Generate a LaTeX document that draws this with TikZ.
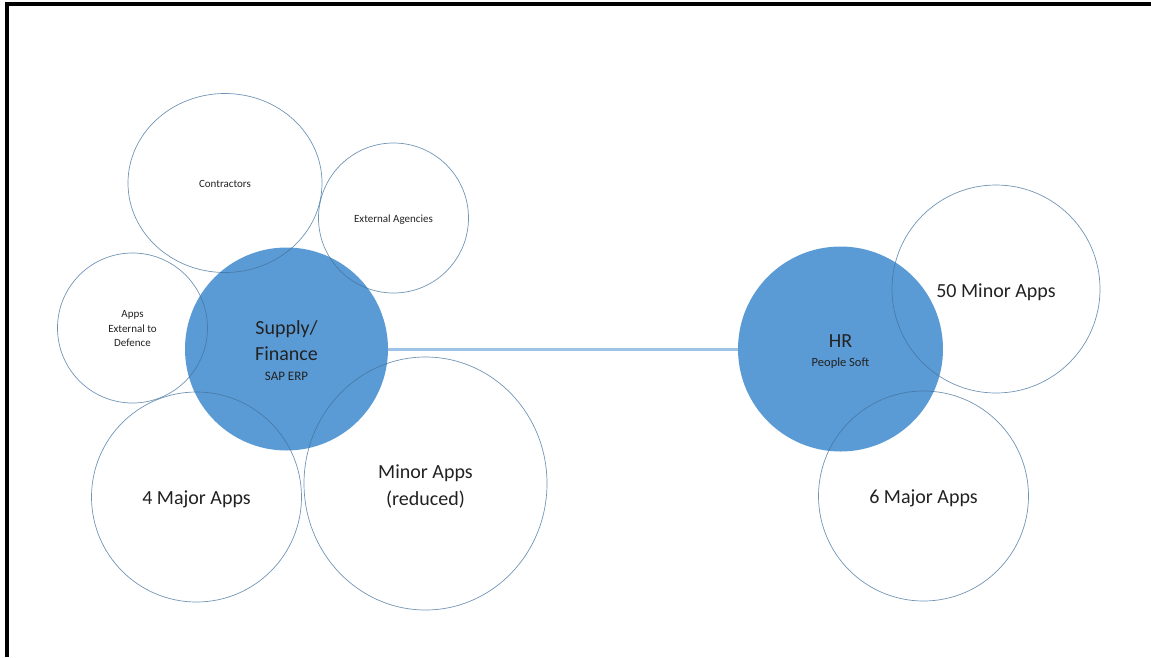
\documentclass[tikz,border=0pt]{standalone}
\usepackage{fontspec}
\setmainfont{Carlito}
\usetikzlibrary{shapes.geometric}
\definecolor{hub}{HTML}{5B9BD5}
\definecolor{ring}{HTML}{41719C}
\definecolor{link}{HTML}{9DC3E6}
\definecolor{ink}{HTML}{222222}
\tikzset{
  hubnode/.style={circle,fill=hub,draw=none,inner sep=0pt,minimum size=#1},
  ringnode/.style={circle,draw=ring,draw opacity=0.75,line width=0.7pt,inner sep=0pt,minimum size=#1},
  ringell/.style={ellipse,draw=ring,draw opacity=0.75,line width=0.7pt,inner sep=0pt},
  label/.style={text=ink,inner sep=0pt,anchor=base},
  big/.style={label,font=\fontsize{20}{26}\selectfont},
  sub/.style={label,font=\fontsize{13}{16}\selectfont},
  small/.style={label,font=\fontsize{11}{14.5}\selectfont},
  frame/.style={line width=4pt,black}
}
\begin{document}
\begin{tikzpicture}[x=1pt,y=-1pt]
\useasboundingbox (0,0) rectangle (1151,657);
% frame (top and left edges)
\coordinate (fl) at (6.5,657);
\coordinate (fc) at (6.5,4);
\coordinate (fr) at (1151,4);
\draw[frame] (fl) -- (fc) -- (fr);
% hubs
\node[hubnode=203pt] (supply) at (286.5,349) {};
\node[hubnode=205pt] (hr) at (840.5,349) {};
\draw[link,line width=3pt] (supply) -- (hr);
% surrounding rings
\node[ringell,minimum width=194pt,minimum height=179pt] (contr) at (225,183) {};
\node[ringnode=150pt] (agencies) at (393.5,218) {};
\node[ringnode=150pt] (external) at (132.5,328) {};
\node[ringnode=210pt] (major4) at (196.5,497) {};
\node[ringell,minimum width=243pt,minimum height=253pt] (minor) at (425.5,483.5) {};
\node[ringnode=208pt] (minor50) at (996,289) {};
\node[ringnode=210pt] (major6) at (923.5,496) {};
% texts
\node[big] (supplyA) at (286.5,334) {Supply/};
\node[big] (supplyB) at (286.5,360) {Finance};
\node[sub] (supplyC) at (286.5,380) {SAP ERP};
\node[big] (hrA) at (840.5,347) {HR};
\node[sub,font=\fontsize{12.5}{15}\selectfont] (hrB) at (840.5,366) {People Soft};
\node[small] (contrtext) at (225,187) {Contractors};
\node[small] (agtext) at (393.5,222) {External Agencies};
\node[small] (extA) at (132.5,317) {Apps};
\node[small] (extB) at (132.5,332) {External to};
\node[small] (extC) at (132.5,346) {Defence};
\node[big] (m4text) at (196.5,504) {4 Major Apps};
\node[big] (minA) at (425.5,478) {Minor Apps};
\node[big] (minB) at (425.5,505) {(reduced)};
\node[big] (m50text) at (996,297) {50 Minor Apps};
\node[big] (m6text) at (923.5,503) {6 Major Apps};
\end{tikzpicture}
\end{document}
